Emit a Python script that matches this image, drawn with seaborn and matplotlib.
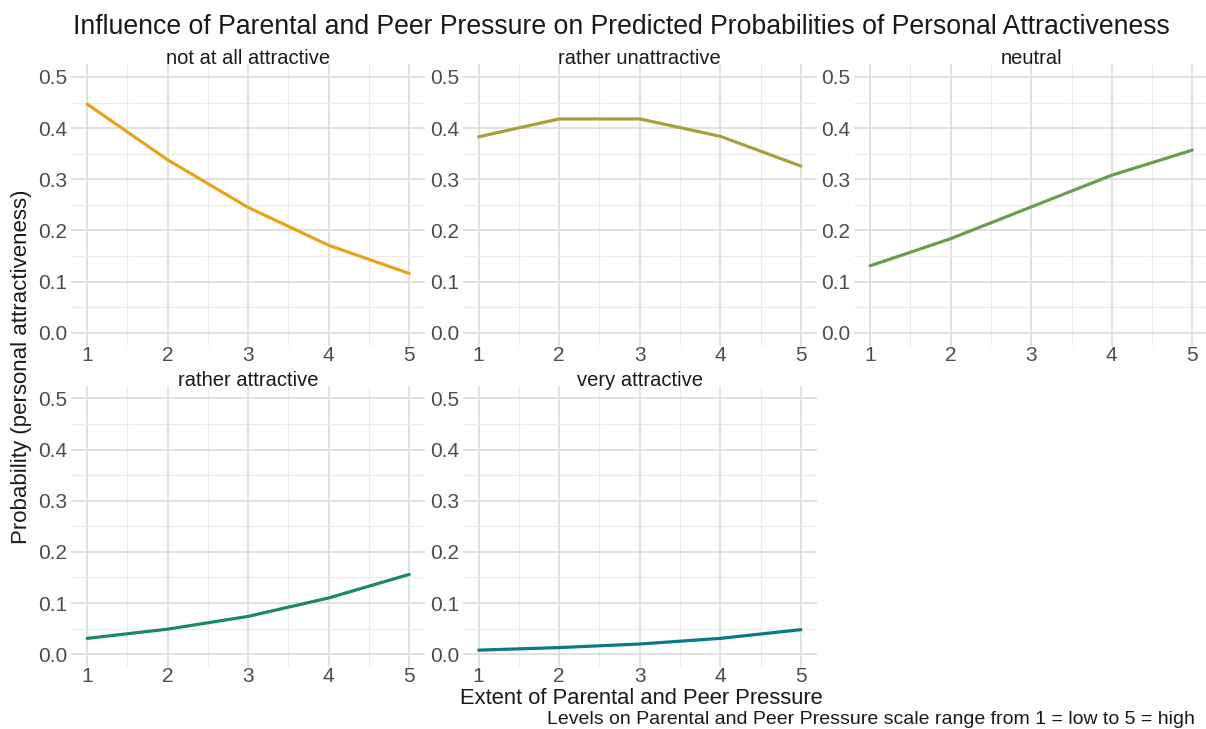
import numpy as np
import pandas as pd
import matplotlib
matplotlib.use("Agg")
import matplotlib.pyplot as plt
from matplotlib.ticker import MultipleLocator
import seaborn as sns

# ---- data ----
pressure = [1, 2, 3, 4, 5]
categories = ["not at all attractive", "rather unattractive", "neutral",
              "rather attractive", "very attractive"]
p_not_at_all = [0.447, 0.338, 0.245, 0.171, 0.116]
p_rather_unattr = [0.383, 0.418, 0.418, 0.384, 0.326]
p_neutral = [0.131, 0.184, 0.246, 0.308, 0.357]
p_rather_attr = [0.031, 0.049, 0.074, 0.110, 0.156]
p_very_attr = [0.008, 0.013, 0.020, 0.031, 0.048]
colors = ["#E9A31A", "#A9A03A", "#6A9E4C", "#168A6A", "#0A7A8A"]

series = [p_not_at_all, p_rather_unattr, p_neutral, p_rather_attr, p_very_attr]
rows = []
for cat, vals in zip(categories, series):
    for x, v in zip(pressure, vals):
        rows.append({"pressure": x, "prob": v, "category": cat})
df = pd.DataFrame(rows)
df["category"] = pd.Categorical(df["category"], categories=categories, ordered=True)

sns.set_theme(style="white")
plt.rcParams["font.family"] = ["Liberation Sans", "DejaVu Sans"]

g = sns.relplot(data=df, x="pressure", y="prob", col="category", col_wrap=3,
                hue="category", palette=colors, kind="line", legend=False,
                linewidth=2.3, col_order=categories, hue_order=categories,
                facet_kws=dict(sharex=False, sharey=False),
                height=3, aspect=1.2)
fig = g.figure
fig.set_size_inches(12.06, 7.29)
fig.set_dpi(100)
fig.subplots_adjust(left=0.0589, right=1.002, top=0.912, bottom=0.085,
                    wspace=0.105, hspace=0.142)

g.set_titles("{col_name}", size=14.5, color="#1A1A1A", pad=0)
g.set_axis_labels("", "")
for ax in g.axes.flat:
    ax.set_xlim(0.8, 5.2)
    ax.set_ylim(-0.025, 0.525)
    ax.xaxis.set_minor_locator(MultipleLocator(0.5))
    ax.yaxis.set_minor_locator(MultipleLocator(0.05))
    ax.set_yticks([0, 0.1, 0.2, 0.3, 0.4, 0.5])
    ax.set_yticklabels(["0.0", "0.1", "0.2", "0.3", "0.4", "0.5"])
    ax.set_xticks([1, 2, 3, 4, 5])
    ax.set_xticklabels(["1", "2", "3", "4", "5"])
    ax.tick_params(axis="both", which="both", length=0, labelsize=15,
                   labelcolor="#4D4D4D")
    ax.tick_params(axis="y", pad=2.5)
    ax.tick_params(axis="x", pad=0)
    ax.grid(True, which="major", color="#DEDEDE", linewidth=1.3)
    ax.grid(True, which="minor", color="#EBEBEB", linewidth=0.8)
    ax.set_axisbelow(True)
    for s in ax.spines.values():
        s.set_visible(False)
    ax.set_facecolor("white")

fig.text(621 / 1206, 1 - 27 / 729,
         "Influence of Parental and Peer Pressure on Predicted Probabilities of Personal Attractiveness",
         ha="center", va="center", fontsize=19.2, color="#1A1A1A")
fig.text(22 / 1206, 1 - 367 / 729, "Probability (personal attractiveness)",
         rotation=90, ha="center", va="center", fontsize=16, color="#1A1A1A")
fig.text(641 / 1206, 1 - 698 / 729, "Extent of Parental and Peer Pressure",
         ha="center", va="center", fontsize=15.8, color="#1A1A1A")
fig.text(547 / 1206, 1 - 720 / 729,
         "Levels on Parental and Peer Pressure scale range from 1 = low to 5 = high",
         ha="left", va="center", fontsize=14, color="#1A1A1A")

fig.savefig("out.png", dpi=100, facecolor="white")
